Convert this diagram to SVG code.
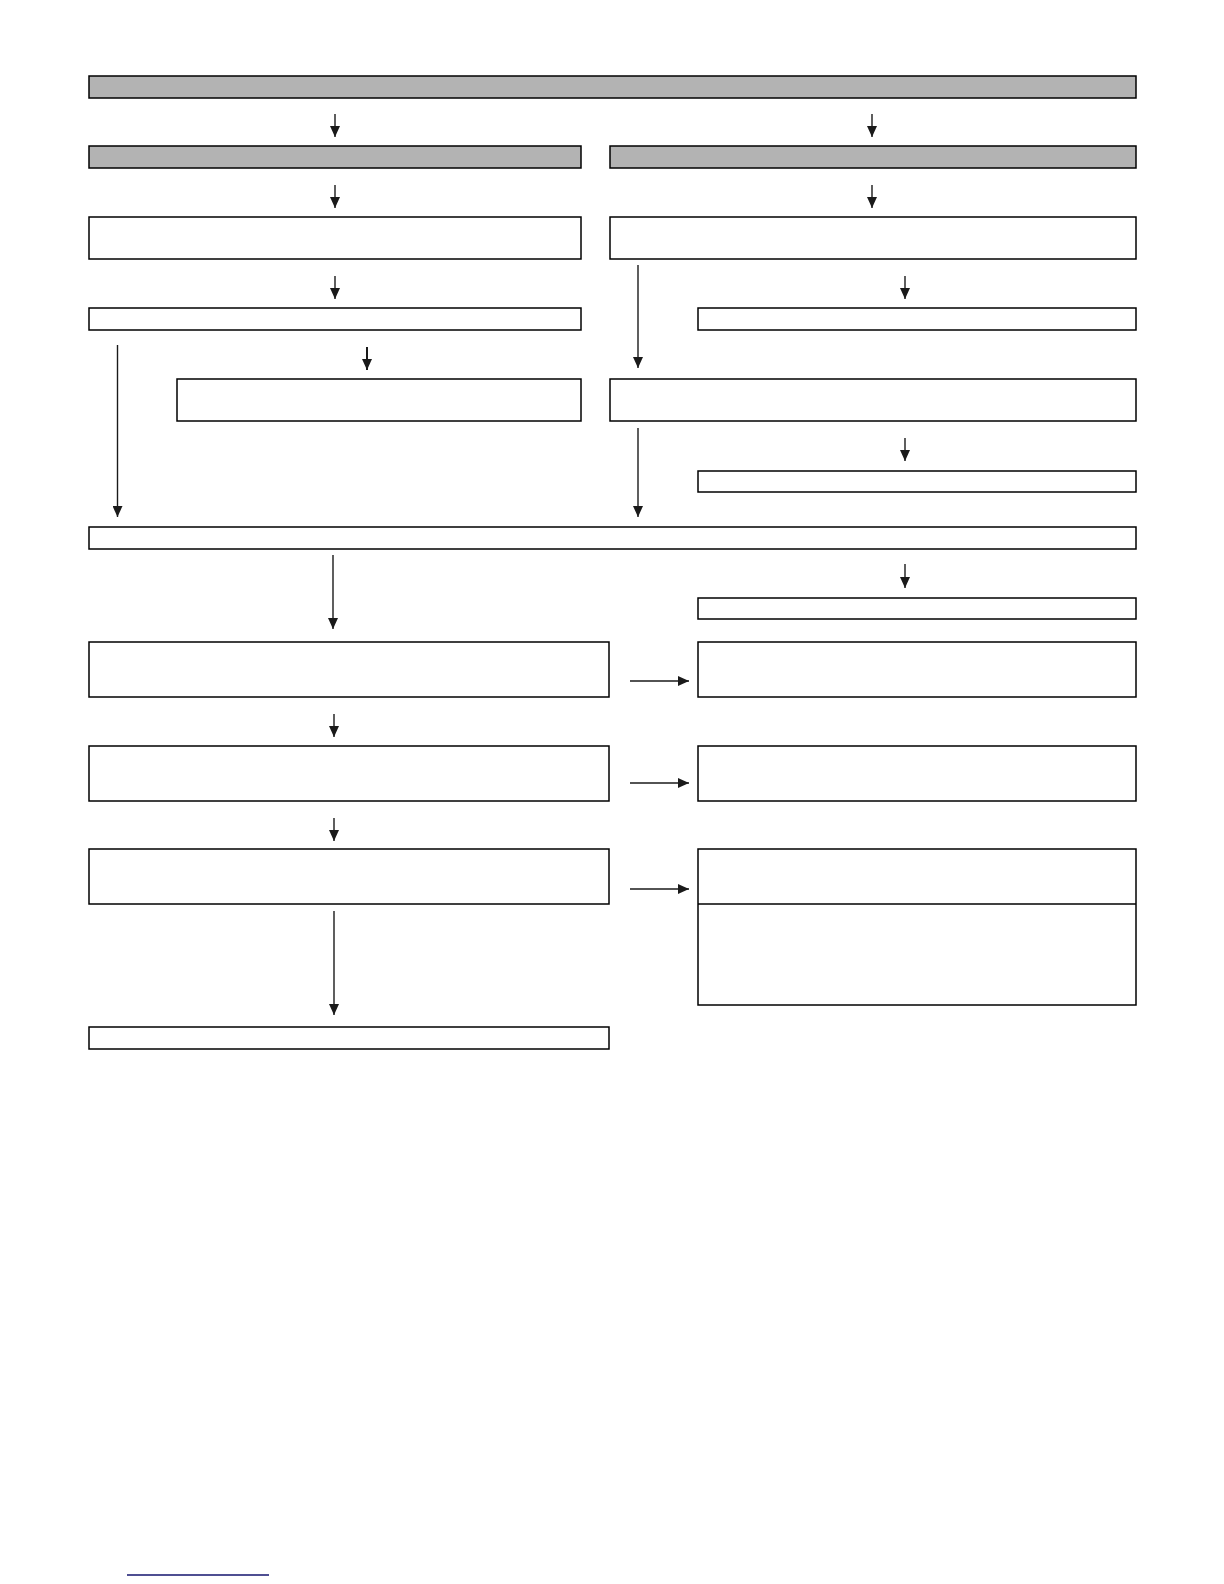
<svg xmlns="http://www.w3.org/2000/svg" width="1224" height="1584" viewBox="0 0 1224 1584">
<style>
.box{fill:#ffffff;stroke:#000000;stroke-width:1.5}
.hdr{fill:#b3b3b3;stroke:#000000;stroke-width:1.5}
.c{stroke:#1a1a1a;stroke-width:1.4;fill:none;marker-end:url(#ah)}
.cb{stroke:#1a1a1a;stroke-width:2;fill:none;marker-end:url(#ah)}
</style>
<defs>
<marker id="ah" markerUnits="userSpaceOnUse" markerWidth="11" markerHeight="10" refX="11" refY="5" orient="auto">
<path d="M0,0 L11,5 L0,10 z" fill="#1a1a1a"/>
</marker>
</defs>
<rect width="1224" height="1584" fill="#ffffff"/>
<g id="n-top"><rect class="hdr" x="89" y="76" width="1047" height="22"/></g>
<g id="n-hdr-left"><rect class="hdr" x="89" y="146" width="492" height="22"/></g>
<g id="n-hdr-right"><rect class="hdr" x="610" y="146" width="526" height="22"/></g>
<g id="n-l1"><rect class="box" x="89" y="217" width="492" height="42"/></g>
<g id="n-r1"><rect class="box" x="610" y="217" width="526" height="42"/></g>
<g id="n-l2"><rect class="box" x="89" y="308" width="492" height="22"/></g>
<g id="n-r2"><rect class="box" x="698" y="308" width="438" height="22"/></g>
<g id="n-l3"><rect class="box" x="177" y="379" width="404" height="42"/></g>
<g id="n-r3"><rect class="box" x="610" y="379" width="526" height="42"/></g>
<g id="n-r4"><rect class="box" x="698" y="471" width="438" height="21"/></g>
<g id="n-wide"><rect class="box" x="89" y="527" width="1047" height="22"/></g>
<g id="n-r5"><rect class="box" x="698" y="598" width="438" height="21"/></g>
<g id="n-m1l"><rect class="box" x="89" y="642" width="520" height="55"/></g>
<g id="n-m1r"><rect class="box" x="698" y="642" width="438" height="55"/></g>
<g id="n-m2l"><rect class="box" x="89" y="746" width="520" height="55"/></g>
<g id="n-m2r"><rect class="box" x="698" y="746" width="438" height="55"/></g>
<g id="n-m3l"><rect class="box" x="89" y="849" width="520" height="55"/></g>
<g id="n-m3r"><rect class="box" x="698" y="849" width="438" height="156"/><line x1="698" y1="904" x2="1136" y2="904" stroke="#000000" stroke-width="1.5"/></g>
<g id="n-final"><rect class="box" x="89" y="1027" width="520" height="22"/></g>
<g id="connectors">
<line class="c" x1="335" y1="114" x2="335" y2="137"/>
<line class="c" x1="872" y1="114" x2="872" y2="137"/>
<line class="c" x1="335" y1="185" x2="335" y2="208"/>
<line class="c" x1="872" y1="185" x2="872" y2="208"/>
<line class="c" x1="335" y1="276" x2="335" y2="299"/>
<line class="c" x1="905" y1="276" x2="905" y2="299"/>
<line class="c" x1="638" y1="265" x2="638" y2="368"/>
<line class="cb" x1="367" y1="347" x2="367" y2="370"/>
<line class="c" x1="117.5" y1="345" x2="117.5" y2="517"/>
<line class="c" x1="905" y1="438" x2="905" y2="461"/>
<line class="c" x1="638" y1="428" x2="638" y2="517"/>
<line class="c" x1="333" y1="555" x2="333" y2="629"/>
<line class="c" x1="905" y1="564" x2="905" y2="588"/>
<line class="c" x1="630" y1="681" x2="689" y2="681"/>
<line class="c" x1="334" y1="714" x2="334" y2="737"/>
<line class="c" x1="630" y1="783" x2="689" y2="783"/>
<line class="c" x1="334" y1="818" x2="334" y2="841"/>
<line class="c" x1="630" y1="889" x2="689" y2="889"/>
<line class="c" x1="334" y1="911" x2="334" y2="1015"/>
</g>
<line x1="127" y1="1575" x2="269" y2="1575" stroke="#14146e" stroke-width="1.6"/>
</svg>
